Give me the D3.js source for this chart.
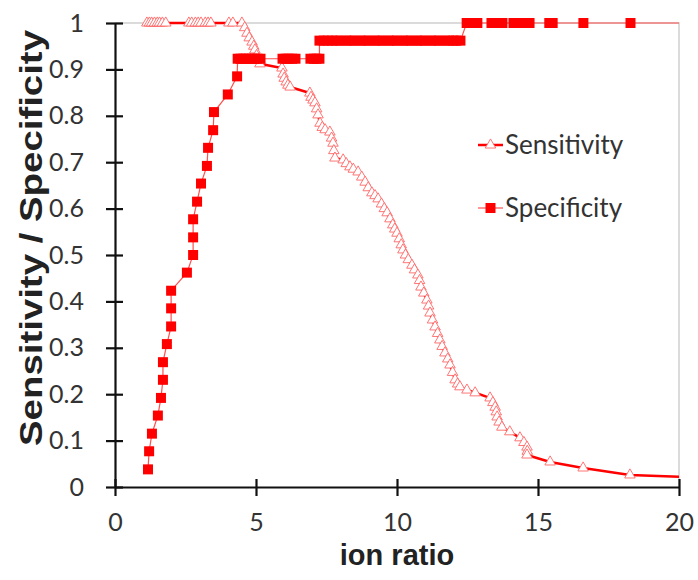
<!DOCTYPE html>
<html>
<head>
<meta charset="utf-8">
<script src="https://cdn.jsdelivr.net/npm/d3@7"></script>
<style>
body { margin: 0; background: #fff; }
</style>
</head>
<body>
<div id="chart"></div>
<script>
// ion ratio vs sensitivity (open triangles)
const sensitivity = [
  [1.13,1],[1.22,1],[1.3,1],[1.4,1],[1.5,1],[1.58,1],[1.68,1],[1.8,1],
  [2.62,1],[2.72,1],[2.85,1],[2.95,1],[3.05,1],[3.2,1],[3.3,1],[3.4,1],
  [4.04,1],[4.18,1],
  [4.5,1],[4.6,0.99],[4.68,0.978],[4.76,0.968],[4.86,0.959],[4.92,0.95],[4.96,0.942],[5.02,0.93],[5.08,0.92],[5.14,0.912],
  [5.92,0.903],[5.96,0.89],[6.0,0.881],[6.07,0.873],[6.13,0.866],[6.21,0.862],
  [6.91,0.849],[6.95,0.84],[7.02,0.834],[7.09,0.828],[7.15,0.815],[7.2,0.802],[7.27,0.784],[7.35,0.775],[7.45,0.77],
  [7.62,0.765],[7.68,0.752],[7.73,0.741],[7.76,0.725],[7.8,0.709],
  [8.09,0.705],[8.2,0.697],[8.33,0.69],[8.45,0.685],[8.62,0.679],[8.75,0.668],[8.87,0.657],[8.98,0.645],
  [9.11,0.634],[9.22,0.628],[9.33,0.621],[9.45,0.61],[9.55,0.6],[9.65,0.591],[9.75,0.578],[9.85,0.565],[9.92,0.556],
  [10.0,0.547],[10.08,0.535],[10.15,0.522],[10.21,0.511],[10.3,0.5],[10.4,0.49],[10.53,0.478],[10.62,0.468],[10.74,0.457],
  [10.8,0.445],[10.85,0.431],[10.95,0.418],[11.06,0.403],[11.12,0.39],[11.17,0.375],[11.26,0.36],[11.35,0.345],
  [11.44,0.331],[11.52,0.317],[11.6,0.303],[11.7,0.289],[11.8,0.276],[11.88,0.263],[11.97,0.247],[12.06,0.231],
  [12.15,0.222],[12.23,0.216],[12.48,0.209],[12.77,0.203],
  [13.3,0.192],[13.4,0.182],[13.48,0.172],[13.52,0.162],[13.55,0.151],[13.62,0.14],[13.72,0.129],
  [14.0,0.119],[14.36,0.106],[14.5,0.096],[14.61,0.086],[14.62,0.077],[14.61,0.069],
  [15.43,0.054],[16.6,0.041],[18.26,0.026],[21,0.02]
];

// ion ratio vs specificity (filled squares)
const specificity = [
  [1.17,0.038],[1.21,0.077],[1.31,0.115],[1.52,0.154],[1.63,0.192],[1.7,0.231],[1.7,0.269],[1.84,0.308],
  [1.99,0.346],[1.99,0.385],[1.99,0.423],[2.55,0.462],[2.77,0.5],[2.77,0.538],[2.77,0.577],[2.91,0.615],
  [3.05,0.654],[3.26,0.692],[3.3,0.731],[3.48,0.769],[3.51,0.808],[4.0,0.846],[4.33,0.885],
  [4.35,0.923],[4.45,0.923],[4.55,0.923],[4.65,0.923],[4.75,0.923],[4.85,0.923],[4.95,0.923],[5.05,0.923],[5.16,0.923],
  [5.94,0.923],[6.05,0.923],[6.15,0.923],[6.28,0.923],[6.4,0.923],
  [6.93,0.923],[7.05,0.923],[7.15,0.923],[7.25,0.923],
  [7.25,0.962],[7.4,0.962],[7.55,0.962],[7.7,0.962],[7.85,0.962],[8.0,0.962],[8.2,0.962],[8.35,0.962],[8.5,0.962],
  [8.7,0.962],[8.85,0.962],[9.0,0.962],[9.2,0.962],[9.35,0.962],[9.5,0.962],[9.7,0.962],[9.85,0.962],[10.0,0.962],
  [10.2,0.962],[10.35,0.962],[10.5,0.962],[10.7,0.962],[10.85,0.962],[11.0,0.962],[11.2,0.962],[11.35,0.962],
  [11.5,0.962],[11.7,0.962],[11.85,0.962],[12.0,0.962],[12.1,0.962],[12.25,0.962],
  [12.47,1],[12.6,1],[12.73,1],[12.85,1],[13.35,1],[13.5,1],[13.62,1],[13.74,1],
  [14.13,1],[14.3,1],[14.45,1],[14.6,1],[14.7,1],[15.4,1],[15.52,1],[16.61,1],[18.28,1],[21,1]
];

const xTicks = [0, 5, 10, 15, 20];
const yTicks = [0, 0.1, 0.2, 0.3, 0.4, 0.5, 0.6, 0.7, 0.8, 0.9, 1];
const seriesNames = ['Sensitivity', 'Specificity'];

const width = 698;
const height = 580;
const margin = {top: 23, right: 19, bottom: 93, left: 115};

const svg = d3.select('#chart')
  .append('svg')
  .attr('width', width)
  .attr('height', height);

const x = d3.scaleLinear().domain([0, 20]).range([margin.left, width - margin.right]);
const y = d3.scaleLinear().domain([0, 1]).range([height - margin.bottom, margin.top]);

// plot border (top and right)
svg.append('path')
  .attr('d', `M${x(0)},${y(1)}H${x(20)}V${y(0)}`)
  .attr('fill', 'none')
  .attr('stroke', '#d0d0d0')
  .attr('stroke-width', 1.5);

svg.append('clipPath').attr('id', 'clip')
  .append('rect')
  .attr('x', x(0)).attr('y', y(1) - 10)
  .attr('width', x(20) - x(0)).attr('height', y(0) - y(1) + 20);

const plot = svg.append('g').attr('clip-path', 'url(#clip)');

const line = d3.line().x(d => x(d[0])).y(d => y(d[1]));

// sensitivity
plot.append('path')
  .datum(sensitivity)
  .attr('d', line)
  .attr('fill', 'none')
  .attr('stroke', '#ff0000')
  .attr('stroke-width', 2.5);

const tri = d3.symbol().type(d3.symbolTriangle).size(48);

plot.selectAll('.sens')
  .data(sensitivity)
  .enter()
  .append('path')
  .attr('class', 'sens')
  .attr('d', tri)
  .attr('transform', d => `translate(${x(d[0])},${y(d[1])})`)
  .attr('fill', '#fff')
  .attr('stroke', '#ff6666')
  .attr('stroke-width', 0.9);

// specificity
plot.append('path')
  .datum(specificity)
  .attr('d', line)
  .attr('fill', 'none')
  .attr('stroke', '#ff5050')
  .attr('stroke-width', 1.2);

plot.selectAll('.spec')
  .data(specificity)
  .enter()
  .append('rect')
  .attr('class', 'spec')
  .attr('x', d => x(d[0]) - 5)
  .attr('y', d => y(d[1]) - 5)
  .attr('width', 10)
  .attr('height', 10)
  .attr('fill', '#ff0000');

// axes
const xAxis = svg.append('g')
  .attr('transform', `translate(0,${y(0)})`)
  .call(d3.axisBottom(x).tickValues(xTicks).tickSizeInner(9).tickSizeOuter(0).tickPadding(20));

xAxis.selectAll('.tick line').attr('y1', -8);

const yAxis = svg.append('g')
  .attr('transform', `translate(${x(0)},0)`)
  .call(d3.axisLeft(y).tickValues(yTicks).tickFormat(d3.format('')).tickSizeInner(9).tickSizeOuter(0).tickPadding(22));

yAxis.selectAll('.tick line').attr('x1', 8);

svg.selectAll('.domain, .tick line')
  .attr('stroke', '#111')
  .attr('stroke-width', 2.2);

svg.selectAll('.tick text')
  .attr('font-family', 'Lato, sans-serif')
  .attr('font-size', 25)
  .attr('fill', '#333');

xAxis.selectAll('.tick text').attr('dy', '0.6em');

// axis titles
svg.append('text')
  .attr('x', x(10))
  .attr('y', 565)
  .attr('text-anchor', 'middle')
  .attr('font-family', 'Liberation Sans, Arial, sans-serif')
  .attr('font-weight', 'bold')
  .attr('font-size', 29)
  .attr('fill', '#222')
  .text('ion ratio');

svg.append('text')
  .attr('transform', `translate(42,238) rotate(-90)`)
  .attr('text-anchor', 'middle')
  .attr('font-family', 'Liberation Sans, Arial, sans-serif')
  .attr('font-weight', 'bold')
  .attr('font-size', 31)
  .attr('textLength', 416)
  .attr('lengthAdjust', 'spacingAndGlyphs')
  .attr('fill', '#222')
  .text('Sensitivity / Specificity');

// legend
const legend = svg.append('g').attr('transform', 'translate(478,0)');
const legendY = [145, 208];

legend.selectAll('line')
  .data(seriesNames)
  .enter()
  .append('line')
  .attr('x1', 0).attr('x2', 25)
  .attr('y1', (d, i) => legendY[i]).attr('y2', (d, i) => legendY[i])
  .attr('stroke', (d, i) => i === 0 ? '#ff0000' : '#ff5050')
  .attr('stroke-width', (d, i) => i === 0 ? 2.5 : 1.2);

legend.append('path')
  .attr('d', tri)
  .attr('transform', `translate(12.5,${legendY[0]})`)
  .attr('fill', '#fff')
  .attr('stroke', '#ff6666')
  .attr('stroke-width', 0.9);

legend.append('rect')
  .attr('x', 7.5).attr('y', legendY[1] - 5)
  .attr('width', 10).attr('height', 10)
  .attr('fill', '#ff0000');

legend.selectAll('text')
  .data(seriesNames)
  .enter()
  .append('text')
  .attr('x', 27)
  .attr('y', (d, i) => legendY[i])
  .attr('dy', '0.35em')
  .attr('font-family', 'Lato, sans-serif')
  .attr('font-size', 26)
  .attr('fill', '#333')
  .text(d => d);
</script>
</body>
</html>
